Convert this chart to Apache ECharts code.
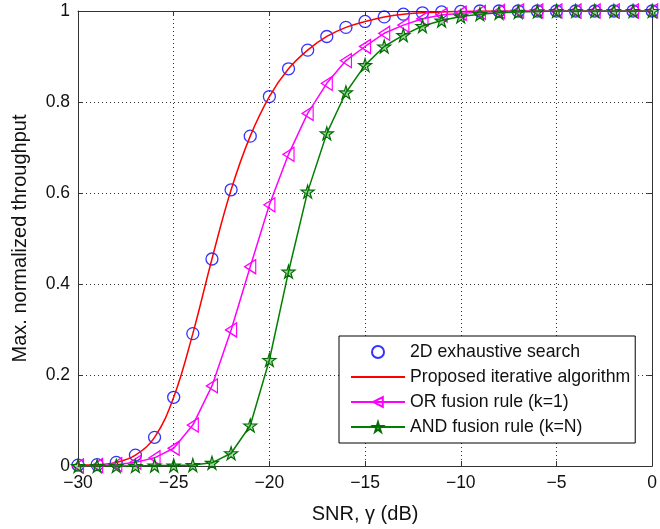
<!DOCTYPE html>
<html>
<head>
<meta charset="utf-8">
<script src="https://cdn.jsdelivr.net/npm/echarts@6/dist/echarts.min.js"></script>
<style>
html,body{margin:0;padding:0;background:#fff;}
#chart{width:660px;height:529px;}
</style>
</head>
<body>
<div id="chart"></div>
<script>
// SNR points (dB)
var snr = [-30,-29,-28,-27,-26,-25,-24,-23,-22,-21,-20,-19,-18,-17,-16,-15,-14,-13,-12,-11,-10,-9,-8,-7,-6,-5,-4,-3,-2,-1,0];

// 2D exhaustive search (markers only)
var exhaustive = [0.002,0.003,0.008,0.024,0.063,0.151,0.291,0.455,0.607,0.725,0.812,0.873,0.914,0.944,0.964,0.977,0.987,0.993,0.996,0.998,0.999,1,1,1,1,1,1,1,1,1,1];
// proposed iterative algorithm (line)
var iterative = [0.002,0.003,0.008,0.024,0.063,0.151,0.291,0.455,0.607,0.725,0.812,0.873,0.914,0.944,0.964,0.977,0.987,0.993,0.996,0.998,0.999,1,1,1,1,1,1,1,1,1,1];
// OR fusion rule (k=1)
var orRule = [0.000,0.001,0.003,0.008,0.018,0.039,0.090,0.176,0.299,0.438,0.574,0.685,0.775,0.841,0.891,0.922,0.951,0.969,0.983,0.991,0.995,0.997,0.999,1,1,1,1,1,1,1,1];
// AND fusion rule (k=N)
var andRule = [0.000,0.000,0.000,0.000,0.001,0.001,0.002,0.007,0.028,0.089,0.233,0.427,0.603,0.731,0.821,0.881,0.922,0.947,0.967,0.979,0.988,0.993,0.996,0.998,0.999,1,1,1,1,1,1];

var xTicks = [-30,-25,-20,-15,-10,-5,0];
var yTicks = [0,0.2,0.4,0.6,0.8,1];

var names = ['2D exhaustive search','Proposed iterative algorithm','OR fusion rule (k=1)','AND fusion rule (k=N)'];

function pairs(ys){
	var out = [];
	for(var i=0;i<snr.length;i++){
		out.push([snr[i],ys[i]]);
	}
	return out;
}

var font = "'Liberation Sans', Arial, Helvetica, sans-serif";
var starPath = 'path://M50,0 L61,35 L98,35 L68,57 L79,91 L50,70 L21,91 L32,57 L2,35 L39,35 Z';
var hollow = 'rgba(0,0,0,0)';

var grid = {left:78,right:4,top:11,bottom:63};
var dotted = {show:true,lineStyle:{color:'#333',width:1,type:[1,3]}};
var axisLine = {show:true,onZero:false,lineStyle:{color:'#333',width:1}};
var tick = {show:true,inside:true,length:5,lineStyle:{color:'#333'}};

var option = {
	animation:false,
	backgroundColor:'#fff',
	textStyle:{fontFamily:font},
	grid:grid,
	xAxis:[{
		type:'value',min:xTicks[0],max:xTicks[xTicks.length-1],interval:5,
		position:'bottom',
		axisLine:axisLine,axisTick:tick,splitLine:dotted,
		axisLabel:{
			color:'#111',fontSize:17.5,margin:8,fontFamily:font,
			formatter:function(v){ return v<0 ? '\u2212'+Math.abs(v) : ''+v; }
		},
		name:'SNR, \u03b3 (dB)',nameLocation:'middle',nameGap:38,
		nameTextStyle:{color:'#111',fontSize:20,fontFamily:font}
	},{
		type:'value',min:xTicks[0],max:xTicks[xTicks.length-1],interval:5,
		position:'top',
		axisLine:axisLine,axisTick:tick,splitLine:{show:false},axisLabel:{show:false}
	}],
	yAxis:[{
		type:'value',min:yTicks[0],max:yTicks[yTicks.length-1],interval:0.2,
		position:'left',
		axisLine:axisLine,axisTick:tick,splitLine:dotted,
		axisLabel:{color:'#111',fontSize:17.5,margin:8,fontFamily:font},
		name:'Max. normalized throughput',nameLocation:'middle',nameGap:48,
		nameTextStyle:{color:'#111',fontSize:20,fontFamily:font}
	},{
		type:'value',min:yTicks[0],max:yTicks[yTicks.length-1],interval:0.2,
		position:'right',
		axisLine:axisLine,axisTick:tick,splitLine:{show:false},axisLabel:{show:false}
	}],
	legend:{
		orient:'vertical',
		left:339,top:336,
		data:[
			{name:names[0]},
			{name:names[1],itemStyle:{color:hollow,borderWidth:0,opacity:0}},
			{name:names[2]},
			{name:names[3]}
		],
		backgroundColor:'#fff',
		borderColor:'#000',borderWidth:1,borderRadius:0,
		padding:[7,5,7,11],
		itemWidth:54,itemHeight:12,itemGap:7,
		textStyle:{color:'#111',fontSize:17.7,lineHeight:18,fontFamily:font}
	},
	series:[{
		name:names[0],
		type:'scatter',
		data:pairs(exhaustive),
		symbol:'circle',symbolSize:12,
		itemStyle:{color:hollow,borderColor:'#0000ff',borderWidth:1.3}
	},{
		name:names[1],
		type:'line',
		data:pairs(iterative),
		symbol:'none',smooth:0.4,
		itemStyle:{color:'#ff0000'},
		lineStyle:{color:'#ff0000',width:1.5}
	},{
		name:names[2],
		type:'line',
		data:pairs(orRule),
		symbol:'triangle',symbolRotate:90,symbolSize:[14,11],
		itemStyle:{color:hollow,borderColor:'#ff00ff',borderWidth:1.3},
		lineStyle:{color:'#ff00ff',width:1.5}
	},{
		name:names[3],
		type:'line',
		data:pairs(andRule),
		symbol:starPath,symbolSize:13,
		itemStyle:{color:'rgba(0,128,0,0.35)',borderColor:'#006e00',borderWidth:1.2},
		lineStyle:{color:'#008000',width:1.5}
	}]
};

var myChart = echarts.init(document.getElementById('chart'));
myChart.setOption(option);
</script>
</body>
</html>
